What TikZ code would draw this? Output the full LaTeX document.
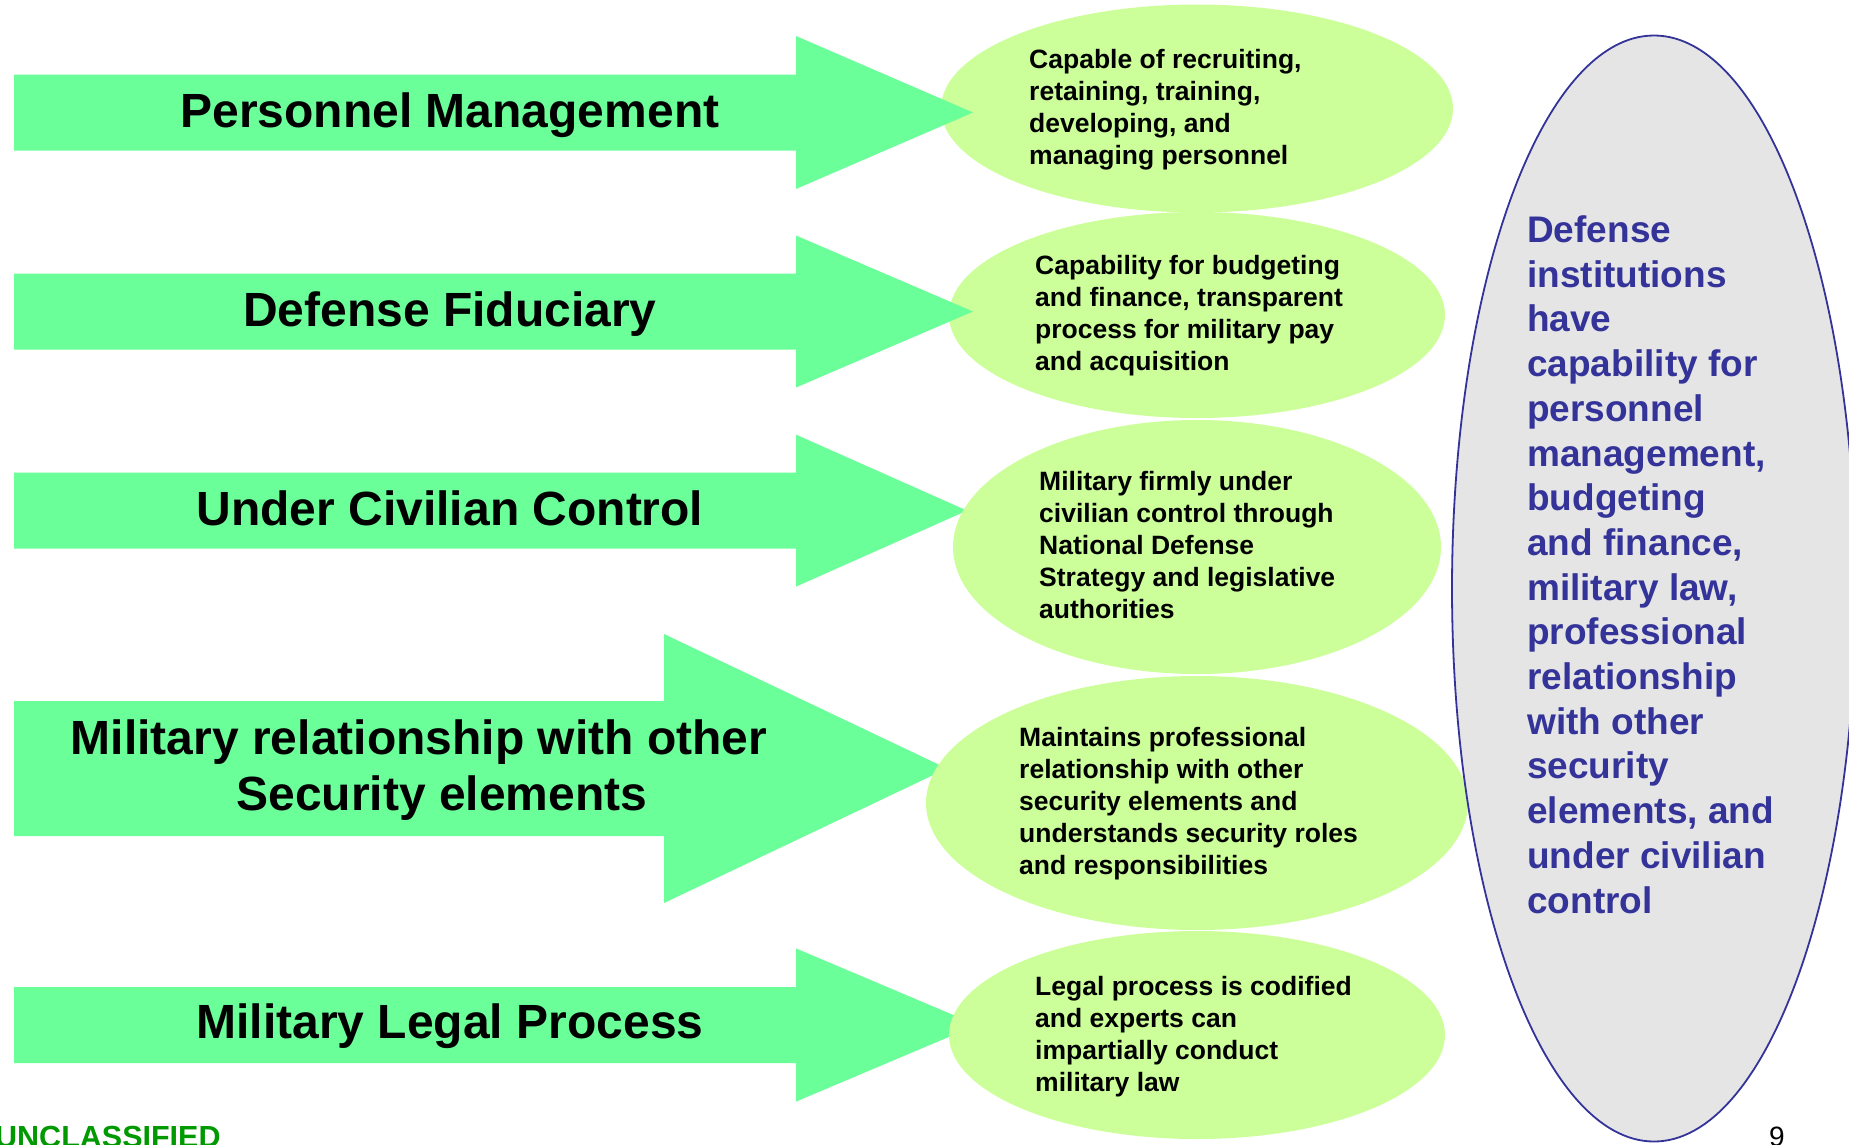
\documentclass[tikz,border=0pt]{standalone}
\usepackage{fontspec}
\setmainfont{Liberation Sans}
\usetikzlibrary{shapes.geometric}
\definecolor{arrowgreen}{HTML}{6BFF9A}
\definecolor{ellgreen}{HTML}{CCFF99}
\definecolor{biggray}{HTML}{E5E5E5}
\definecolor{navyblue}{HTML}{333399}
\definecolor{classgreen}{HTML}{009900}
\newcommand\bigarrowshape[6]{%
  \fill[fatarrow] (#1,#2-#3) -- (#4,#2-#3) -- (#4,#2-#5) -- (#6,#2) --
    (#4,#2+#5) -- (#4,#2+#3) -- (#1,#2+#3) -- cycle;}
\begin{document}
\begin{tikzpicture}[x=1pt,y=-1pt,
  fatarrow/.style={fill=arrowgreen,draw=none},
  ellnode/.style={ellipse,fill=ellgreen,draw=none,inner sep=0pt},
  bigell/.style={ellipse,fill=biggray,draw=navyblue,line width=1.8pt,inner sep=0pt},
  armlabel/.style={inner sep=0pt,anchor=base,font=\fontsize{48}{56.6}\selectfont\bfseries},
  elltext/.style={inner sep=0pt,anchor=north west,align=left,font=\fontsize{26.5}{31.8}\selectfont\bfseries},
  bigtext/.style={inner sep=0pt,anchor=north west,align=left,text=navyblue,font=\fontsize{37}{44.7}\selectfont\bfseries}]
\useasboundingbox (0,0) rectangle (1849,1144);
% arrows under their ellipses
\bigarrowshape{14}{510.6}{38}{796}{76}{967}
\bigarrowshape{14}{768.5}{67.5}{664}{134.5}{947}
\bigarrowshape{14}{1025}{38}{796}{76.6}{977}
% ellipses
\node[ellnode,minimum width=512pt,minimum height=208pt] (e1) at (1197,108.5) {};
\node[ellnode,minimum width=496pt,minimum height=206pt] (e2) at (1197,315) {};
\node[ellnode,minimum width=488pt,minimum height=254pt] (e3) at (1197,547) {};
\node[ellnode,minimum width=542pt,minimum height=254pt] (e4) at (1197,803) {};
\node[ellnode,minimum width=496pt,minimum height=208pt] (e5) at (1197,1035) {};
% arrows over their ellipses
\bigarrowshape{14}{112.5}{38}{796}{76.5}{973}
\bigarrowshape{14}{311.5}{38}{796}{76}{973}
% big ellipse
\node[bigell,minimum width=404pt,minimum height=1106pt] (big) at (1654,588.5) {};
% arrow labels
\node[armlabel] (t1) at (450,127) {Personnel Management};
\node[armlabel] (t2) at (450,326) {Defense Fiduciary};
\node[armlabel] (t3) at (450,525) {Under Civilian Control};
\node[armlabel] (t4a) at (419,754) {Military relationship with other};
\node[armlabel] (t4b) at (442,810.5) {Security elements};
\node[armlabel] (t5) at (450,1038) {Military Legal Process};
% ellipse texts
\node[elltext] (x1) at (1029,49.5) {Capable of recruiting,\\retaining, training,\\developing, and\\managing personnel};
\node[elltext] (x2) at (1035,255.5) {Capability for budgeting\\and finance, transparent\\process for military pay\\and acquisition};
\node[elltext] (x3) at (1039,471.5) {Military firmly under\\civilian control through\\National Defense\\Strategy and legislative\\authorities};
\node[elltext] (x4) at (1019,727.5) {Maintains professional\\relationship with other\\security elements and\\understands security roles\\and responsibilities};
\node[elltext] (x5) at (1035,976.5) {Legal process is codified\\and experts can\\impartially conduct\\military law};
% big text
\node[bigtext] (bt) at (1527,215.5) {Defense\\institutions\\have\\capability for\\personnel\\management,\\budgeting\\and finance,\\military law,\\professional\\relationship\\with other\\security\\elements, and\\under civilian\\control};
% footer
\node[inner sep=0pt,anchor=base west,text=classgreen,font=\fontsize{30.5}{36}\selectfont\bfseries] (uc) at (-5,1147) {UNCLASSIFIED};
\node[inner sep=0pt,anchor=base,font=\fontsize{28}{34}\selectfont] (pg) at (1777,1146) {9};
\end{tikzpicture}
\end{document}
